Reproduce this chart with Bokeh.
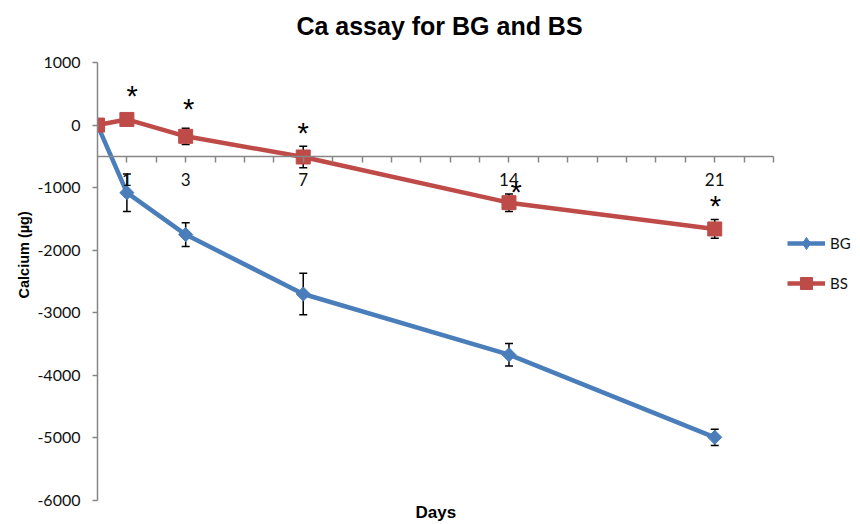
from bokeh.plotting import figure
from bokeh.models import (Range1d, FixedTicker, Whisker, TeeHead, ColumnDataSource,
                          Legend, LegendItem, Title, Label)
from bokeh.core.properties import value
from bokeh.embed import file_html
from bokeh.resources import INLINE
import math

# ---- data ----
days = [0, 1, 3, 7, 14, 21]
bg_values = [0, -1080, -1750, -2700, -3670, -4990]
bg_errors = [0, 300, 190, 330, 180, 130]
bs_values = [0, 90, -180, -510, -1240, -1660]
bs_errors = [0, 60, 130, 170, 140, 150]
star_days = [1.18, 3.1, 7.0, 14.24, 21.02]
star_levels = [512, 309, -80, -1024, -1248]
x_label_days = [1, 3, 7, 14, 21]
x_tick_days = list(range(1, 24))
x_axis_end = 23
y_axis_min, y_axis_max = -6000, 1000
y_ticks = [1000, 0, -1000, -2000, -3000, -4000, -5000, -6000]
y_tick_labels = ["1000", "0", "-1000", "-2000", "-3000", "-4000", "-5000", "-6000"]

title_text = "Ca assay for BG and BS"
x_title = "Days"
y_title = "Calcium (µg)"

BLUE = "#4A7EBB"
RED = "#BE4B48"
AXIS = "#868686"

# frame covers the whole canvas width/height beyond the axes so the title and
# legend (drawn inside the frame) are not clipped; axes are bounded.
p = figure(width=860, height=524, output_backend="svg", toolbar_location=None,
           x_range=Range1d(0, 25.96), y_range=Range1d(y_axis_min, 1991),
           min_border_left=97, min_border_right=0, min_border_top=0, min_border_bottom=24)
p.title.visible = False
p.outline_line_color = None
p.grid.visible = False
p.background_fill_color = "white"
p.border_fill_color = "white"

# x axis crossing at -500
xa = p.xaxis[0]
xa.fixed_location = -500
xa.bounds = (0, x_axis_end)
xa.ticker = FixedTicker(ticks=x_tick_days)
xa.major_label_overrides = {d: (str(d) if d in x_label_days else "") for d in x_tick_days}
xa.axis_line_color = AXIS
xa.axis_line_width = 1.5
xa.major_tick_line_color = AXIS
xa.major_tick_line_width = 1.5
xa.major_tick_out = 6
xa.major_tick_in = 0
xa.minor_tick_line_color = None
xa.major_label_text_font = "Lato"
xa.major_label_text_font_size = "17px"
xa.major_label_text_color = "#111111"
xa.major_label_standoff = 11

ya = p.yaxis[0]
ya.bounds = (y_axis_min, y_axis_max)
ya.ticker = FixedTicker(ticks=y_ticks)
ya.major_label_overrides = dict(zip(y_ticks, y_tick_labels))
ya.axis_line_color = AXIS
ya.axis_line_width = 1.5
ya.major_tick_line_color = AXIS
ya.major_tick_line_width = 1.5
ya.major_tick_out = 5
ya.major_tick_in = 0
ya.minor_tick_line_color = None
ya.major_label_text_font = "Lato"
ya.major_label_text_font_size = "16px"
ya.major_label_text_color = "#111111"
ya.major_label_standoff = 12

bg_src = ColumnDataSource(dict(x=days, y=bg_values,
                               lo=[v - e for v, e in zip(bg_values, bg_errors)],
                               hi=[v + e for v, e in zip(bg_values, bg_errors)]))
bs_src = ColumnDataSource(dict(x=days, y=bs_values,
                               lo=[v - e for v, e in zip(bs_values, bs_errors)],
                               hi=[v + e for v, e in zip(bs_values, bs_errors)]))

for src in (bg_src, bs_src):
    w = Whisker(source=src, base="x", lower="lo", upper="hi",
                line_color="black", line_width=1.5,
                upper_head=TeeHead(size=8, line_color="black", line_width=1.5),
                lower_head=TeeHead(size=8, line_color="black", line_width=1.5))
    p.add_layout(w)

bg_line = p.line("x", "y", source=bg_src, line_color=BLUE, line_width=4.5)
bs_line = p.line("x", "y", source=bs_src, line_color=RED, line_width=4.5)
bg_mark = p.scatter("x", "y", source=bg_src, marker="square", angle=math.pi / 4,
                    size=10, fill_color=BLUE, line_color=BLUE)
# legend key with an upright diamond (legend ignores marker rotation); the
# first point is hidden below the BS square at the same place
bg_key = p.scatter(x=days[:1], y=bg_values[:1], marker="diamond", size=10,
                   fill_color=BLUE, line_color=BLUE)
bs_mark = p.scatter("x", "y", source=bs_src, marker="square", size=14,
                    fill_color=RED, line_color=RED)

star_src = ColumnDataSource(dict(x=star_days, y=star_levels, t=["*"] * len(star_days)))
p.text("x", "y", text="t", source=star_src, text_font=value("Liberation Sans"),
       text_font_size="29px", text_align="center", text_baseline="middle",
       text_color="black", y_offset=3)

legend = Legend(items=[LegendItem(label="BG", renderers=[bg_line, bg_key]),
                       LegendItem(label="BS", renderers=[bs_line, bs_mark])],
                location=(690, 202), orientation="vertical",
                glyph_width=38, glyph_height=30, spacing=10, padding=0,
                label_standoff=5, label_text_font="Lato", label_text_font_size="15px",
                label_text_color="#111111", border_line_color=None,
                background_fill_alpha=0)
p.add_layout(legend, "center")

p.add_layout(Label(x=342, y=475, x_units="screen", y_units="screen", text=title_text,
                   text_font="Liberation Sans", text_font_style="bold", text_font_size="25px",
                   text_align="center", text_baseline="middle", text_color="black"))

p.add_layout(Title(text=y_title, align="left", offset=202, standoff=6,
                   text_font="Liberation Sans", text_font_style="bold",
                   text_font_size="14.5px", text_color="black"), "left")
p.add_layout(Title(text=x_title, align="left", offset=318, standoff=0,
                   text_font="Liberation Sans", text_font_style="bold",
                   text_font_size="17px", text_color="black"), "below")

open("out.html", "w").write(file_html(p, INLINE))
